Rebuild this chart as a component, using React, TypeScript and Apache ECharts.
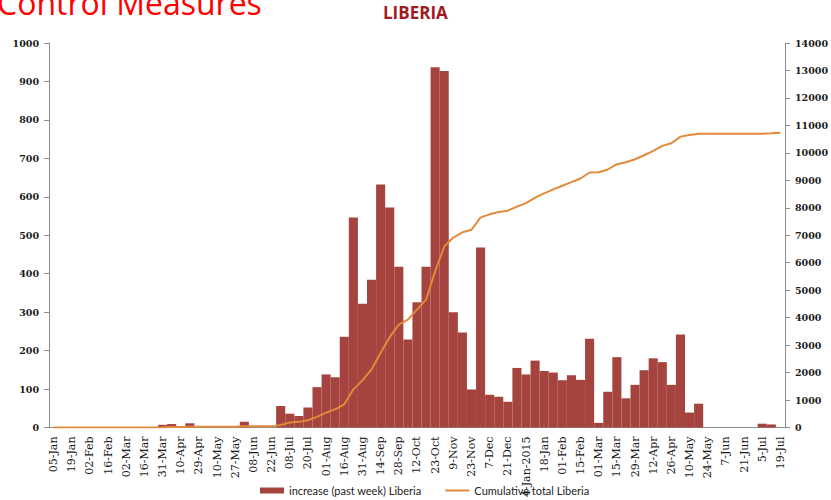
import { useEffect, useRef } from "react";
import * as echarts from "echarts";

// Weekly reporting periods (every other one is labelled on the axis)
const weeks = [
  "05-Jan", "12-Jan", "19-Jan", "26-Jan", "02-Feb", "09-Feb", "16-Feb", "23-Feb",
  "02-Mar", "09-Mar", "16-Mar", "23-Mar", "31-Mar", "05-Apr", "10-Apr", "20-Apr",
  "29-Apr", "05-May", "10-May", "18-May", "27-May", "02-Jun", "08-Jun", "15-Jun",
  "22-Jun", "01-Jul", "08-Jul", "14-Jul", "20-Jul", "27-Jul", "01-Aug", "09-Aug",
  "16-Aug", "23-Aug", "31-Aug", "07-Sep", "14-Sep", "21-Sep", "28-Sep", "05-Oct",
  "12-Oct", "19-Oct", "23-Oct", "2-Nov", "9-Nov", "16-Nov", "23-Nov", "30-Nov",
  "7-Dec", "14-Dec", "21-Dec", "28-Dec", "4-Jan-2015", "11-Jan", "18-Jan", "25-Jan",
  "01-Feb", "08-Feb", "15-Feb", "22-Feb", "01-Mar", "08-Mar", "15-Mar", "22-Mar",
  "29-Mar", "5-Apr", "12-Apr", "19-Apr", "26-Apr", "3-May", "10-May", "17-May",
  "24-May", "31-May", "7-Jun", "14-Jun", "21-Jun", "28-Jun", "5-Jul", "12-Jul",
  "19-Jul",
];

// New cases reported in the past week
const weeklyIncrease = [
  0, 0, 0, 0, 0, 0, 0, 0, 0, 0, 0, 0, 7, 9, 0, 11,
  0, 0, 0, 0, 0, 15, 0, 0, 0, 56, 36, 30, 52, 105, 138, 131,
  236, 546, 322, 384, 632, 572, 418, 229, 326, 418, 937, 927, 300, 247, 99, 468,
  85, 80, 67, 155, 138, 174, 147, 143, 123, 136, 124, 231, 12, 93, 183, 76,
  111, 149, 180, 170, 111, 242, 39, 62, 0, 0, 0, 0, 0, 0, 10, 8,
  0,
];

// Running total of cases
const cumulativeTotal = [
  0, 0, 0, 0, 0, 0, 0, 0, 0, 0, 0, 0, 7, 16, 16, 27,
  27, 27, 27, 27, 27, 42, 42, 42, 42, 95, 181, 206, 265, 388, 544, 664,
  845, 1389, 1716, 2115, 2720, 3290, 3747, 3928, 4291, 4654, 5684, 6590, 6917, 7109, 7200, 7650,
  7762, 7846, 7896, 8041, 8172, 8368, 8524, 8669, 8803, 8933, 9068, 9285, 9297, 9394, 9587, 9659,
  9768, 9913, 10073, 10254, 10349, 10591, 10650, 10700, 10700, 10700, 10700, 10700, 10700, 10700, 10700, 10710,
  10735,
];

const barName = "increase (past week) Liberia";
const lineName = "Cumulative total Liberia";

export default function App() {
  const ref = useRef<HTMLDivElement>(null);

  useEffect(() => {
    if (!ref.current) return;
    const chart = echarts.init(ref.current, undefined, { renderer: "svg" });
    const axisGrey = "#8c8c8c";
    const valueLabel = {
      fontFamily: "DejaVu Serif",
      fontWeight: "bold" as const,
      fontSize: 9.5,
      color: "#1a1a1a",
      formatter: (v: number) => String(v),
    };
    chart.setOption({
      animation: false,
      backgroundColor: "#ffffff",
      graphic: [
        {
          type: "text",
          left: -3,
          top: -14,
          style: {
            text: "Control Measures",
            fill: "#ff0000",
            font: "32px 'Open Sans'",
          },
        },
        {
          type: "text",
          left: 383,
          top: 4,
          style: {
            text: "LIBERIA",
            fill: "#a2191f",
            font: "bold 17px 'Open Sans'",
          },
        },
      ],
      legend: {
        left: 260,
        top: 485,
        padding: 0,
        itemWidth: 24,
        itemHeight: 6,
        itemGap: 24,
        textStyle: { fontFamily: "Lato", fontSize: 11, color: "#222" },
        data: [
          { name: barName, icon: "rect" },
          { name: lineName, icon: "path://M0 0H24V2H0Z" },
        ],
      },
      grid: { left: 49, right: 45, top: 43, bottom: 70 },
      xAxis: {
        type: "category",
        data: weeks,
        boundaryGap: true,
        axisLine: { lineStyle: { color: axisGrey } },
        axisTick: { show: false },
        axisLabel: {
          interval: 1,
          rotate: 90,
          margin: 9,
          fontFamily: "DejaVu Serif",
          fontSize: 11,
          color: "#1a1a1a",
        },
      },
      yAxis: [
        {
          type: "value",
          min: 0,
          max: 1000,
          interval: 100,
          splitLine: { show: false },
          axisLine: { show: true, lineStyle: { color: axisGrey } },
          axisTick: { show: true, length: 5, lineStyle: { color: axisGrey } },
          axisLabel: { ...valueLabel, margin: 10 },
        },
        {
          type: "value",
          min: 0,
          max: 14000,
          interval: 1000,
          splitLine: { show: false },
          axisLine: { show: true, lineStyle: { color: axisGrey } },
          axisTick: { show: true, length: 5, lineStyle: { color: axisGrey } },
          axisLabel: { ...valueLabel, margin: 10 },
        },
      ],
      series: [
        {
          name: barName,
          type: "bar",
          data: weeklyIncrease,
          barCategoryGap: "0%",
          itemStyle: { color: "#a5443f" },
        },
        {
          name: lineName,
          type: "line",
          yAxisIndex: 1,
          data: cumulativeTotal,
          symbol: "none",
          lineStyle: { color: "#e2893a", width: 2 },
          itemStyle: { color: "#e2893a" },
        },
      ],
    });
    return () => chart.dispose();
  }, []);

  return (
    <div
      ref={ref}
      style={{ position: "absolute", left: 0, top: 0, width: 831, height: 500 }}
    />
  );
}
